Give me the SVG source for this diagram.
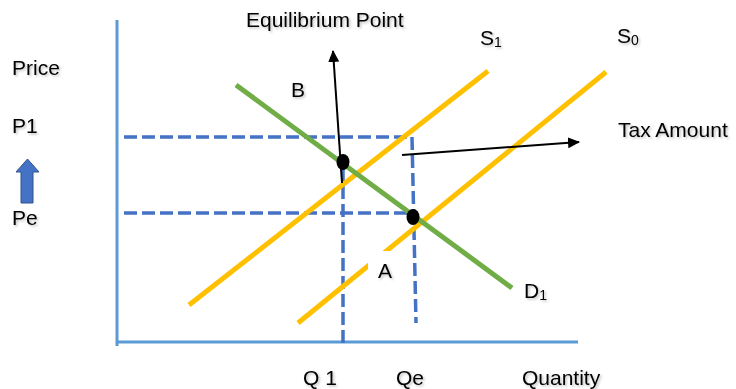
<svg xmlns="http://www.w3.org/2000/svg" width="736" height="389" viewBox="0 0 736 389">
<style>
.t{font-family:"Liberation Sans",Arial,sans-serif;font-size:21px;fill:#000}
.sub{font-size:14px}
.axis{stroke:#5B9BD5;stroke-width:3;fill:none}
.dash{stroke:#4472C4;stroke-width:3.5;stroke-dasharray:13 5;fill:none}
.supply{stroke:#FFC000;stroke-width:5;fill:none}
.demand{stroke:#70AD47;stroke-width:5;fill:none}
.ptr{stroke:#000;stroke-width:2;fill:none}
</style>
<defs>
<marker id="ah" markerWidth="12" markerHeight="12" refX="11" refY="6" orient="auto" markerUnits="userSpaceOnUse">
<path d="M0,0.5 L12,6 L0,11.5 Z" fill="#000"/>
</marker>
<filter id="sh" x="-10%" y="-10%" width="130%" height="140%">
<feDropShadow dx="1.5" dy="1.5" stdDeviation="1.2" flood-color="#000" flood-opacity="0.25"/>
</filter>
</defs>
<rect width="736" height="389" fill="#fff"/>
<g id="axes">
<line class="axis" x1="117" y1="20" x2="117" y2="346"/>
<line class="axis" x1="116" y1="342" x2="578" y2="342"/>
</g>
<g id="connectors">
<line class="dash" x1="124" y1="137" x2="412" y2="137"/>
<line class="dash" x1="412" y1="137" x2="416" y2="323"/>
<line class="dash" x1="124" y1="213" x2="413" y2="213"/>
<line class="dash" x1="343" y1="168" x2="343" y2="348"/>
</g>
<g id="curves">
<line id="S1" class="supply" x1="189" y1="305" x2="488" y2="71"/>
<line id="S0" class="supply" x1="298" y1="323" x2="606" y2="72"/>
<line id="D1" class="demand" x1="236" y1="85" x2="512" y2="288"/>
</g>
<g id="labelA">
<rect x="368" y="251" width="30" height="34" fill="#fff"/>
<text class="t" x="378" y="278" filter="url(#sh)">A</text>
</g>
<g id="points">
<ellipse cx="343" cy="162" rx="6.5" ry="8" fill="#000"/>
<ellipse cx="413" cy="217" rx="6.5" ry="8" fill="#000"/>
</g>
<g id="pointers">
<line class="ptr" x1="342" y1="183" x2="333" y2="51" marker-end="url(#ah)"/>
<line class="ptr" x1="402" y1="155" x2="579" y2="142" marker-end="url(#ah)"/>
</g>
<g id="priceArrow">
<path d="M21,203 L21,172 L16,172 L27.5,159 L39,172 L33,172 L33,203 Z" fill="#4472C4" stroke="#2F528F" stroke-width="1"/>
</g>
<g id="labels" filter="url(#sh)">
<text class="t" x="246" y="27">Equilibrium Point</text>
<text class="t" x="12" y="75">Price</text>
<text class="t" x="12" y="133">P1</text>
<text class="t" x="12" y="225">Pe</text>
<text class="t" x="291" y="97">B</text>
<text class="t" x="480" y="45">S<tspan class="sub" dy="2">1</tspan></text>
<text class="t" x="617" y="43">S<tspan class="sub" dy="2">0</tspan></text>
<text class="t" x="618" y="137">Tax Amount</text>
<text class="t" x="524" y="298">D<tspan class="sub" dy="2">1</tspan></text>
<text class="t" x="303" y="385">Q 1</text>
<text class="t" x="396" y="385">Qe</text>
<text class="t" x="522" y="385">Quantity</text>
</g>
</svg>
